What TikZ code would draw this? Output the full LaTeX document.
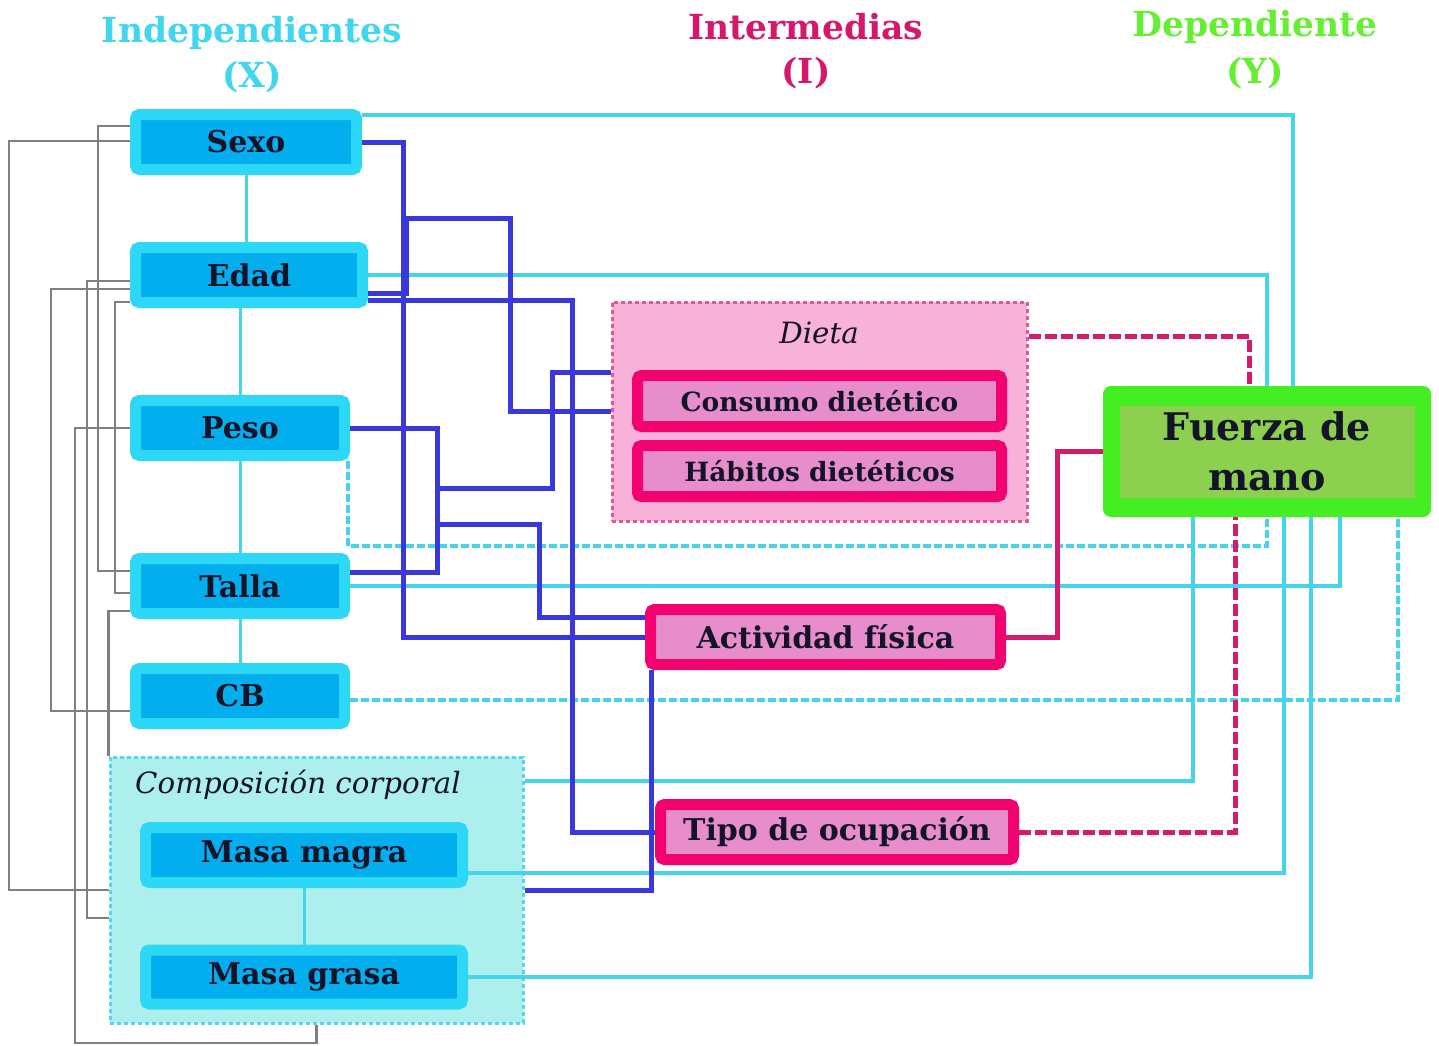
\documentclass[tikz,border=0pt]{standalone}
\usepackage{fontspec}
\setmainfont{DejaVu Serif}
\usetikzlibrary{calc}
\definecolor{cyanout}{HTML}{2CD8F6}
\definecolor{bluein}{HTML}{03AEEF}
\definecolor{cyanline}{HTML}{45D4EC}
\definecolor{compfill}{HTML}{ADEFEC}
\definecolor{compdash}{HTML}{55D6EA}
\definecolor{dietafill}{HTML}{F8B2DA}
\definecolor{dietadash}{HTML}{DD5A9A}
\definecolor{magout}{HTML}{F2026E}
\definecolor{pinkin}{HTML}{E88DCB}
\definecolor{greenout}{HTML}{44EE22}
\definecolor{greenin}{HTML}{8DCF4E}
\definecolor{blueline}{HTML}{3838DC}
\definecolor{magline}{HTML}{D41C6C}
\definecolor{grayline}{HTML}{808080}
\definecolor{txt}{HTML}{141428}
\definecolor{hx}{HTML}{40D6EE}
\definecolor{hi}{HTML}{D6186C}
\definecolor{hy}{HTML}{66EE33}
\begin{document}
\begin{tikzpicture}[x=1pt,y=-1pt,
  hdr/.style={font=\bfseries\fontsize{34.5}{38}\selectfont, inner sep=0pt},
  xbox/.style={draw=cyanout, fill=bluein, line width=11pt, rounded corners=4pt,
    minimum height=55pt, inner sep=0pt, text=txt, font=\bfseries\fontsize{30}{34}\selectfont},
  ibox/.style={draw=magout, fill=pinkin, line width=11pt, rounded corners=4pt,
    minimum height=55pt, inner sep=0pt, text=txt, font=\bfseries\fontsize{30}{34}\selectfont},
  dbox/.style={ibox, minimum width=364pt, minimum height=51pt, font=\bfseries\fontsize{26.5}{30}\selectfont},
  grp/.style={line width=3pt, dash pattern=on 4pt off 3pt, inner sep=0pt},
  glabel/.style={font=\itshape\fontsize{29.3}{33}\selectfont, text=txt, inner sep=0pt},
  vcon/.style={draw=cyanline, line width=3pt},
  cyl/.style={draw=cyanline, line width=4pt},
  cyd/.style={draw=cyanline, line width=4pt, dash pattern=on 8pt off 3pt},
  bl/.style={draw=blueline, line width=5pt},
  mg/.style={draw=magline, line width=5pt},
  mgd/.style={draw=magline, line width=5pt, dash pattern=on 12pt off 4pt},
  gr/.style={draw=grayline, line width=2.8pt}
]
\useasboundingbox[fill=white] (0,0) rectangle (1439,1045);

% headers
\node[hdr, text=hx] (hX1) at (252,33) {Independientes};
\node[hdr, text=hx] (hX2) at (252,77) {(X)};
\node[hdr, text=hi] (hI1) at (806,27) {Intermedias};
\node[hdr, text=hi] (hI2) at (806,73) {(I)};
\node[hdr, text=hy] (hY1) at (1255,27) {Dependiente};
\node[hdr, text=hy] (hY2) at (1255,73) {(Y)};

% groups
\node[grp, draw=compdash, fill=compfill, minimum width=413pt, minimum height=266pt] (comp) at (316.5,890) {};
\node[glabel] (compl) at (298,785) {Composición corporal};
\node[grp, draw=dietadash, fill=dietafill, minimum width=415pt, minimum height=219pt] (dieta) at (819.5,411.5) {};
\node[glabel] (dietal) at (819,333) {Dieta};

% independent boxes
\node[xbox, minimum width=221pt] (sexo) at (246,142) {Sexo};
\node[xbox, minimum width=227pt] (edad) at (249,275) {Edad};
\node[xbox, minimum width=209pt] (peso) at (240,428) {Peso};
\node[xbox, minimum width=209pt] (talla) at (240,586) {Talla};
\node[xbox, minimum width=209pt] (cb) at (240,696) {CB};
\node[xbox, minimum width=317pt] (magra) at (304,855) {Masa magra};
\node[xbox, minimum width=317pt, minimum height=54pt] (grasa) at (304,977) {Masa grasa};

% intermediate boxes
\node[dbox] (consumo) at (819.5,401) {Consumo dietético};
\node[dbox] (habitos) at (819.5,471) {Hábitos dietéticos};
\node[ibox, minimum width=350pt] (activ) at (825.5,637) {Actividad física};
\node[ibox, minimum width=353pt] (tipo) at (837,832) {Tipo de ocupación};

% dependent
\node[fill=greenout, rounded corners=8pt, minimum width=328pt, minimum height=131pt, inner sep=0pt] (fuerza) at (1267,451.5) {};
\node[fill=greenin, minimum width=295pt, minimum height=92pt, inner sep=0pt, align=center,
  text=txt, font=\bfseries\fontsize{38}{50}\selectfont] (fuerzain) at (1267,451.5) {Fuerza de\\mano};

% thin vertical links between independents
\draw[vcon] (sexo.south) -- (sexo.south |- edad.north);
\draw[vcon] (peso.north) -- (peso.north |- edad.south);
\draw[vcon] (peso.south) -- (talla.north);
\draw[vcon] (talla.south) -- (cb.north);
\draw[vcon] (magra.south) -- (grasa.north);

% gray links (left)
\draw[gr] ([yshift=16pt]sexo.west) -- (98,126) |- ([yshift=15pt]talla.west);
\draw[gr] ([yshift=1pt]sexo.west) -- (9,141) |- (comp.west);
\draw[gr] ([yshift=-6pt]edad.west) -- (87,281) |- ([yshift=-28pt]comp.west);
\draw[gr] ([yshift=-14pt]edad.west) -- (51,289) |- ([yshift=-15pt]cb.west);
\draw[gr] ([yshift=-27pt]edad.west) -- (115,302) |- ([yshift=-7pt]talla.west);
\draw[gr] (peso.west) -| (75,1043) -| (comp.south);
\draw[gr] ([yshift=-25pt]talla.west) -| (comp.north west);

% cyan solid links to Fuerza
\draw[cyl] ([yshift=-6pt]sexo.north east) -| ([xshift=26pt]fuerza.north);
\draw[cyl] (edad.east) -| (fuerza.north);
\draw[cyl] (talla.east) -| ([xshift=73pt]fuerza.south);
\draw[cyl] ([yshift=109pt]comp.east) -| ([xshift=-74pt]fuerza.south);
\draw[cyl] ([yshift=-18pt]magra.east) -| ([xshift=17pt]fuerza.south);
\draw[cyl] (grasa.east) -| ([xshift=44pt]fuerza.south);
% cyan dashed links
\draw[cyd] ([xshift=-2pt]peso.south east) -- ++(0,85) -| (fuerza.south);
\draw[cyd] ([yshift=-4pt]cb.east) -| ([xshift=131pt]fuerza.south);

% blue links
\draw[bl] (sexo.east) -| (403,637) -- (activ.west);
\draw[bl] ([yshift=-18pt]edad.east) -| (406,218) -- (510,218) |- (dieta.west);
\draw[bl] ([yshift=-25pt]edad.east) -- (572,300) |- (tipo.west);
\draw[bl] (peso.east) -- (437,428) |- ([yshift=14pt]talla.east);
\coordinate (busA) at (437,488);
\coordinate (busB) at (437,524);
\draw[bl] (busA) -- (552,488) |- ([yshift=39.5pt]dieta.west);
\draw[bl] (busB) -- (539,524) |- ([yshift=20pt]activ.west);
\draw[bl] (comp.east) -| ([xshift=-174.5pt]activ.south);

% magenta links
\draw[mg] (activ.east) -- (1057,637) |- (fuerza.west);
\draw[mgd] ([yshift=75.5pt]dieta.east) -| ([xshift=-18pt]fuerza.north);
\draw[mgd] (tipo.east) -| ([xshift=-32pt]fuerza.south);
\end{tikzpicture}
\end{document}
